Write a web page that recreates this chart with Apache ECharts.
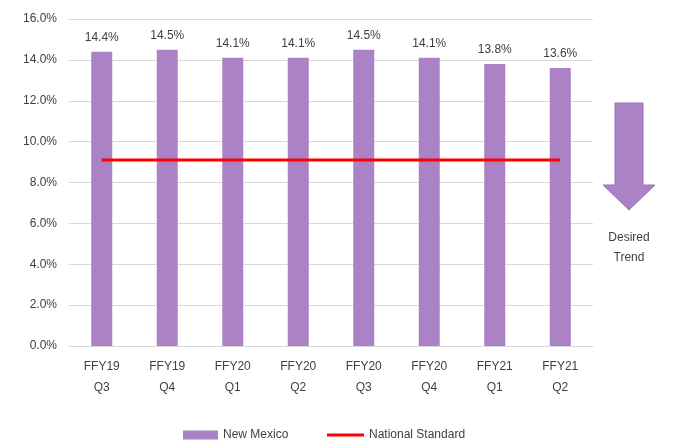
<!DOCTYPE html>
<html><head><meta charset="utf-8">
<script src="https://cdn.jsdelivr.net/npm/echarts@6/dist/echarts.min.js"></script>
<style>html,body{margin:0;padding:0;background:#fff}#c{width:673px;height:442px}</style>
</head><body><div id="c"></div>
<script>
const categories = ['FFY19\nQ3','FFY19\nQ4','FFY20\nQ1','FFY20\nQ2','FFY20\nQ3','FFY20\nQ4','FFY21\nQ1','FFY21\nQ2'];
const newMexico = [14.4, 14.5, 14.1, 14.1, 14.5, 14.1, 13.8, 13.6];
const nationalStandard = [9.1, 9.1, 9.1, 9.1, 9.1, 9.1, 9.1, 9.1];
const yTicks = {min: 0, max: 16, interval: 2};

const font = '"Liberation Sans", "Open Sans", sans-serif';
const legendText = {fontSize: 12, color: '#404040', fontFamily: font};
const chart = echarts.init(document.getElementById('c'));
chart.setOption({
  animation: false,
  textStyle: {fontFamily: font},
  grid: {left: 69, right: 80, top: 19, bottom: 96},
  legend: [
    {left: 183, top: 429, padding: 0, itemWidth: 35, itemHeight: 9, textStyle: legendText,
     data: [{name: 'New Mexico', icon: 'rect'}]},
    {left: 327, top: 429, padding: 0, itemWidth: 37, itemHeight: 3, textStyle: legendText,
     data: [{name: 'National Standard', icon: 'rect'}]}
  ],
  xAxis: {
    type: 'category', data: categories,
    axisLine: {lineStyle: {color: '#d9d9d9'}},
    axisTick: {show: false},
    axisLabel: {color: '#404040', fontSize: 12, lineHeight: 21, margin: 10}
  },
  yAxis: {
    type: 'value', min: yTicks.min, max: yTicks.max, interval: yTicks.interval,
    axisLabel: {formatter: v => v.toFixed(1) + '%', color: '#404040', fontSize: 12, margin: 12},
    splitLine: {lineStyle: {color: '#d9d9d9'}},
    axisLine: {show: false}, axisTick: {show: false}
  },
  series: [
    {
      name: 'New Mexico', type: 'bar', data: newMexico, barWidth: 21,
      itemStyle: {color: '#AB82C5'},
      label: {show: true, position: 'top', distance: 8, formatter: p => p.value.toFixed(1) + '%', color: '#404040', fontSize: 12}
    },
    {
      name: 'National Standard', type: 'line', data: nationalStandard,
      symbol: 'none', lineStyle: {color: '#FF0000', width: 3}, itemStyle: {color: '#FF0000'}
    }
  ],
  graphic: [
    {type: 'polygon', shape: {points: [[615,103],[643,103],[643,185],[655,185],[629,210],[603,185],[615,185]]},
     style: {fill: '#AB82C5', stroke: '#9a74b5', lineWidth: 1}},
    {type: 'text', x: 629, y: 238, style: {text: 'Desired', fill: '#404040', font: '12px ' + font, align: 'center', verticalAlign: 'middle'}},
    {type: 'text', x: 629, y: 258, style: {text: 'Trend', fill: '#404040', font: '12px ' + font, align: 'center', verticalAlign: 'middle'}}
  ]
});
</script></body></html>
